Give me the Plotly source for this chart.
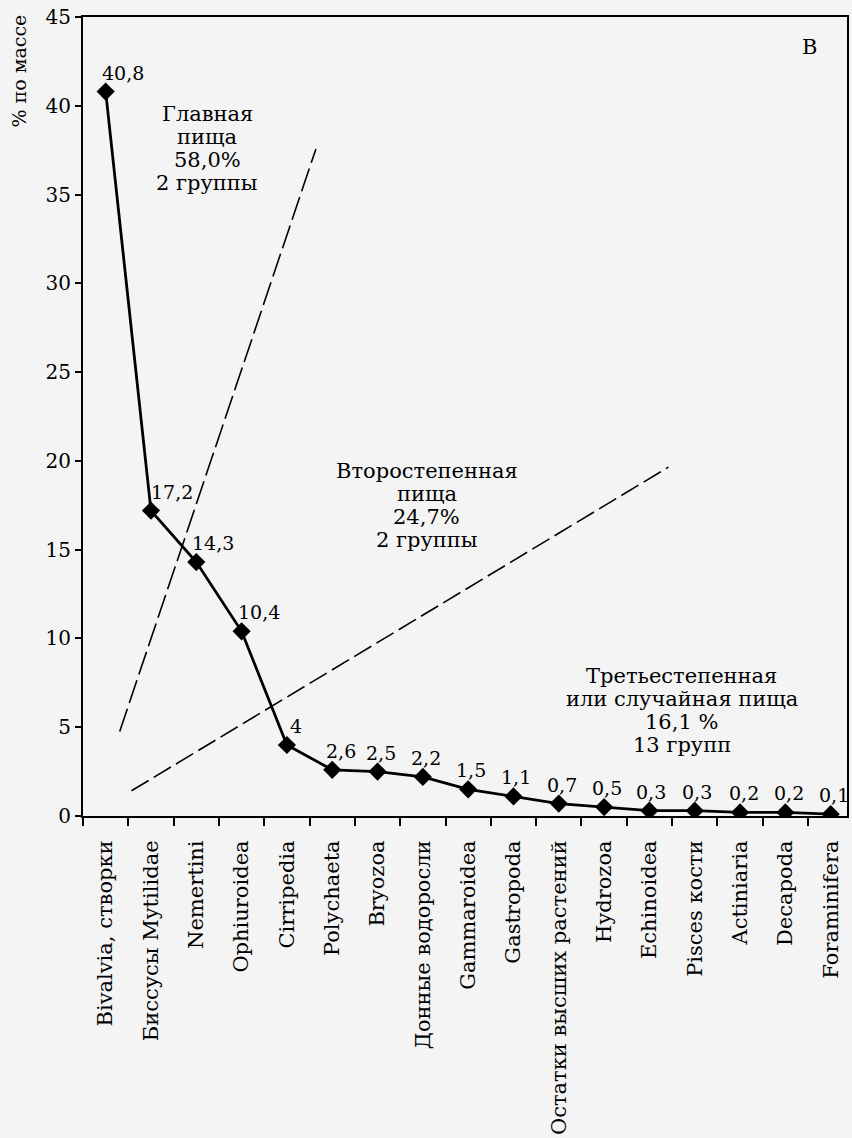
import plotly.graph_objects as go

categories = ["Bivalvia, створки", "Биссусы Mytilidae", "Nemertini", "Ophiuroidea",
              "Cirripedia", "Polychaeta", "Bryozoa", "Донные водоросли", "Gammaroidea",
              "Gastropoda", "Остатки высших растений", "Hydrozoa", "Echinoidea",
              "Pisces кости", "Actiniaria", "Decapoda", "Foraminifera"]
values = [40.8, 17.2, 14.3, 10.4, 4, 2.6, 2.5, 2.2, 1.5, 1.1, 0.7, 0.5, 0.3, 0.3, 0.2, 0.2, 0.1]
value_labels = ["40,8", "17,2", "14,3", "10,4", "4", "2,6", "2,5", "2,2", "1,5", "1,1",
                "0,7", "0,5", "0,3", "0,3", "0,2", "0,2", "0,1"]

# boundary (dashed) lines, in data units (category index, %)
line1_x = [0.31, 4.64]
line1_y = [4.76, 37.57]
line2_x = [0.57, 12.42]
line2_y = [1.42, 19.65]

group_lines = [["Главная", "пища", "58,0%", "2 группы"],
               ["Второстепенная", "пища", "24,7%", "2 группы"],
               ["Третьестепенная", "или случайная пища", "16,1 %", "13 групп"]]
group_x = [2.24, 7.09, 12.71]
group_y = [37.6, 17.5, 5.96]

label_dx = [17, 21, 17, 17, 9, 9, 3, 3, 3, 3, 3, 3, 2, 2, 4, 4, 3]

FONT = "DejaVu Serif"
BG = "#f4f4f4"

xi = list(range(len(categories)))

fig = go.Figure()
fig.add_trace(go.Scatter(x=line1_x, y=line1_y, mode="lines",
                         line=dict(color="black", width=1.6, dash="24px,6px"),
                         hoverinfo="skip", showlegend=False))
fig.add_trace(go.Scatter(x=line2_x, y=line2_y, mode="lines",
                         line=dict(color="black", width=1.6, dash="20px,6px"),
                         hoverinfo="skip", showlegend=False))
fig.add_trace(go.Scatter(x=xi, y=values, mode="lines+markers",
                         line=dict(color="black", width=2.8),
                         marker=dict(symbol="diamond", size=14, color="black"),
                         showlegend=False))

for i, (v, t) in enumerate(zip(values, value_labels)):
    fig.add_annotation(x=i, y=v, text=t, showarrow=False, xanchor="center",
                       yanchor="bottom", xshift=label_dx[i], yshift=6,
                       font=dict(family=FONT, size=19, color="black"))

LINE_H = 23
for lines, gx, gy in zip(group_lines, group_x, group_y):
    n = len(lines)
    for k, t in enumerate(lines):
        fig.add_annotation(x=gx, y=gy, text=t, showarrow=False, xanchor="center",
                           yanchor="middle", yshift=-(k - (n - 1) / 2) * LINE_H,
                           font=dict(family=FONT, size=21, color="black"))

fig.add_annotation(xref="paper", yref="paper", x=0.951, y=0.963, text="В",
                   showarrow=False, xanchor="center", yanchor="middle",
                   font=dict(family=FONT, size=21, color="black"))
fig.add_annotation(xref="paper", yref="paper", x=-0.084, y=1.006, text="% по массе",
                   textangle=-90, showarrow=False, xanchor="center", yanchor="top",
                   font=dict(family=FONT, size=19, color="black"))

fig.update_xaxes(type="linear", range=[-0.5, 16.36], tickmode="array",
                 tickvals=xi, ticktext=categories, tickangle=-90,
                 ticks="", ticklabelstandoff=14,
                 showline=True, linecolor="black", linewidth=2,
                 mirror=True, showgrid=False, zeroline=False,
                 tickfont=dict(family=FONT, size=21, color="black"))
# boundary tick marks via minor ticks
fig.update_xaxes(minor=dict(tickmode="array", tickvals=[i - 0.5 for i in xi],
                            ticks="outside", ticklen=8, tickcolor="black", tickwidth=1.5))
fig.update_yaxes(range=[0, 45], dtick=5, ticks="outside", ticklen=6, tickwidth=1.5,
                 tickcolor="black", showline=True, linecolor="black", linewidth=2,
                 mirror=True, showgrid=False, zeroline=False,
                 tickfont=dict(family=FONT, size=20, color="black"))

fig.update_layout(width=852, height=1138,
                  margin=dict(l=83, r=3, t=17, b=320),
                  paper_bgcolor=BG, plot_bgcolor=BG)

fig.write_html("out.html", config={"displayModeBar": False},
               post_script="document.body.style.margin='0';document.body.style.overflow='hidden';")
